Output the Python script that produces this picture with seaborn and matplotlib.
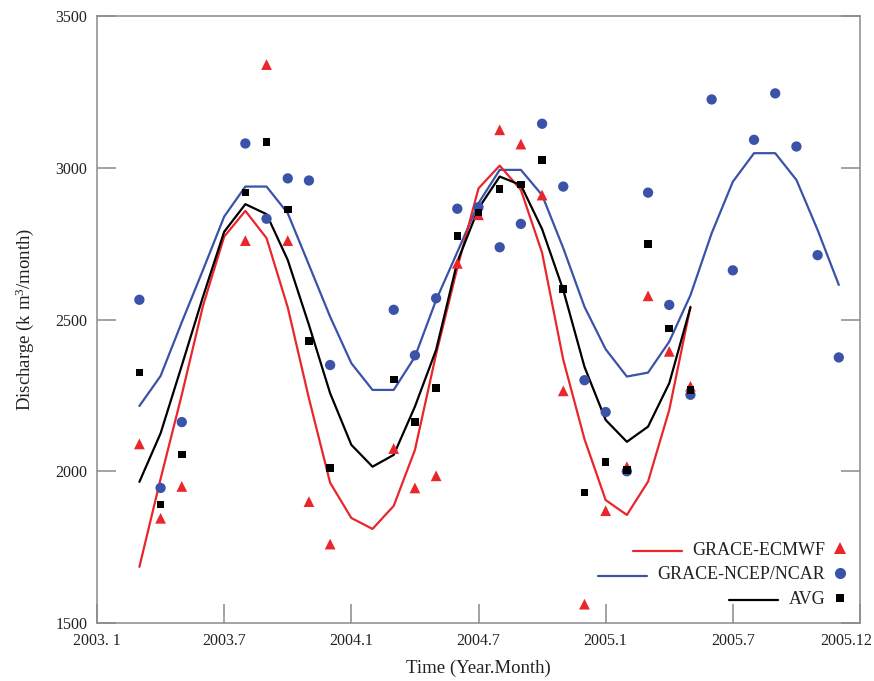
import numpy as np
import pandas as pd
import matplotlib
matplotlib.use("Agg")
import matplotlib.pyplot as plt
import matplotlib.transforms as mtransforms
from matplotlib.lines import Line2D
import seaborn as sns

# ---------------- data ----------------
line_dates_ec = pd.date_range("2003-03", "2005-05", freq="MS")
line_dates_nc = pd.date_range("2003-03", "2005-12", freq="MS")

ecmwf_line = [1685, 1975, 2252, 2545, 2773, 2858, 2768, 2540, 2240, 1962, 1846, 1810,
              1886, 2070, 2386, 2670, 2932, 3007, 2927, 2720, 2367, 2106, 1905, 1856,
              1966, 2202, 2542]
avg_line = [1965, 2125, 2348, 2575, 2789, 2880, 2847, 2696, 2482, 2257, 2087, 2015,
            2054, 2213, 2400, 2690, 2866, 2971, 2943, 2798, 2597, 2344, 2169, 2097,
            2147, 2290, 2540]
ncep_line = [2215, 2314, 2491, 2663, 2839, 2938, 2938, 2850, 2680, 2509, 2356, 2268,
             2268, 2377, 2564, 2722, 2883, 2993, 2993, 2910, 2735, 2542, 2402, 2312,
             2325, 2427, 2580, 2784, 2954, 3048, 3048, 2960, 2795, 2614]

pt_dates_ec = ["2003-03", "2003-04", "2003-05", "2003-08", "2003-09", "2003-10", "2003-11",
               "2003-12", "2004-03", "2004-04", "2004-05", "2004-06", "2004-07", "2004-08",
               "2004-09", "2004-10", "2004-11", "2004-12", "2005-01", "2005-02", "2005-03",
               "2005-04", "2005-05"]
pt_dates_nc = pt_dates_ec + ["2005-06", "2005-07", "2005-08", "2005-09", "2005-10",
                             "2005-11", "2005-12"]

ecmwf_pts = [2090, 1845, 1950, 2760, 3340, 2760, 1900, 1760, 2075, 1945, 1985, 2685,
             2845, 3125, 3078, 2910, 2265, 1562, 1870, 2015, 2578, 2395, 2280]
ncep_pts = [2565, 1945, 2162, 3080, 2832, 2965, 2958, 2350, 2532, 2382, 2570, 2865,
            2870, 2738, 2815, 3145, 2938, 2300, 2195, 2000, 2918, 2548, 2252, 3225,
            2662, 3092, 3245, 3070, 2712, 2375]
avg_pts = [2325, 1890, 2055, 2918, 3085, 2862, 2430, 2010, 2302, 2162, 2275, 2775,
           2852, 2930, 2945, 3025, 2600, 1930, 2030, 2005, 2748, 2470, 2268]

tick_labels = ["2003. 1", "2003.7", "2004.1", "2004.7", "2005.1", "2005.7", "2005.12"]
series_names = ["GRACE-ECMWF", "GRACE-NCEP/NCAR", "AVG"]

RED = "#e8262b"
BLUE = "#3a52a8"
BLACK = "#000000"


def to_t(dates):
    d = pd.to_datetime(pd.Series(dates))
    return (d.dt.year + (d.dt.month - 1) / 12.0).to_numpy()


df_ec = pd.DataFrame({"t": to_t(line_dates_ec), "v": ecmwf_line})
df_avg = pd.DataFrame({"t": to_t(line_dates_ec), "v": avg_line})
df_nc = pd.DataFrame({"t": to_t(line_dates_nc), "v": ncep_line})
dp_ec = pd.DataFrame({"t": to_t(pt_dates_ec), "v": ecmwf_pts})
dp_nc = pd.DataFrame({"t": to_t(pt_dates_nc), "v": ncep_pts})
dp_avg = pd.DataFrame({"t": to_t(pt_dates_ec), "v": avg_pts})

# ---------------- style ----------------
sns.set_style("ticks")
plt.rcParams["font.family"] = ["Liberation Serif", "DejaVu Serif"]
plt.rcParams["mathtext.fontset"] = "custom"
plt.rcParams["mathtext.rm"] = "Liberation Serif"

fig = plt.figure(figsize=(8.74, 6.81), dpi=100)
ax = fig.add_axes([97 / 874, 1 - 623 / 681, 763 / 874, 607 / 681])

lw = 1.6
sns.lineplot(data=df_nc, x="t", y="v", ax=ax, color=BLUE, lw=lw, estimator=None)
sns.lineplot(data=df_ec, x="t", y="v", ax=ax, color=RED, lw=lw, estimator=None)
sns.lineplot(data=df_avg, x="t", y="v", ax=ax, color=BLACK, lw=lw, estimator=None)

sns.scatterplot(data=dp_ec, x="t", y="v", ax=ax, color=RED, marker="^", s=60,
                edgecolor="none", zorder=3)
sns.scatterplot(data=dp_nc, x="t", y="v", ax=ax, color=BLUE, marker="o", s=55,
                edgecolor="none", zorder=3)
sns.scatterplot(data=dp_avg, x="t", y="v", ax=ax, color=BLACK, marker="s", s=30,
                edgecolor="none", zorder=3)

ax.set_xlim(2003.0, 2006.0)
ax.set_ylim(1500, 3500)
ax.set_xticks([2003.0, 2003.5, 2004.0, 2004.5, 2005.0, 2005.5, 2006.0])
ax.set_xticklabels(tick_labels)
ax.set_yticks([1500, 2000, 2500, 3000, 3500])

SPINE = "#8a8a8a"
for sp in ax.spines.values():
    sp.set_color(SPINE)
    sp.set_linewidth(1.1)
ax.tick_params(axis="both", direction="in", length=14, width=1.1, color=SPINE,
               labelsize=11.5, labelcolor="#222222", pad=7)
ax.tick_params(axis="y", right=True)

# keep the last x tick label inside the figure, as in the reference
last = ax.get_xticklabels()[-1]
last.set_ha("right")
last.set_transform(last.get_transform() +
                   mtransforms.ScaledTranslation(12 / 100, 0, fig.dpi_scale_trans))

ax.set_xlabel("Time (Year.Month)", fontsize=13.5, color="#222222", labelpad=8)
ax.set_ylabel("Discharge (k m$\\mathregular{^3}$/month)", fontsize=13.5,
              color="#222222", labelpad=14)

# ---------------- legend ----------------
handles = [
    Line2D([], [], ls="none", marker="^", color=RED, markersize=8.5, markeredgewidth=0),
    Line2D([], [], ls="none", marker="o", color=BLUE, markersize=8, markeredgewidth=0),
    Line2D([], [], ls="none", marker="s", color=BLACK, markersize=5.5, markeredgewidth=0),
]
leg = ax.legend(handles, series_names, loc="lower right", bbox_to_anchor=(0.985, 0.025),
                frameon=False, markerfirst=False, fontsize=13, handlelength=1.0,
                handletextpad=0.3, labelspacing=0.42, borderpad=0, borderaxespad=0)
for t in leg.get_texts():
    t.set_color("#222222")

fig.canvas.draw()
inv = fig.transFigure.inverted()
line_colors = [RED, BLUE, BLACK]
for txt, col in zip(leg.get_texts(), line_colors):
    bb = txt.get_window_extent()
    yc = (bb.y0 + bb.y1) / 2 - 1
    x1 = bb.x0 - 10
    x0 = x1 - 49
    (fx0, fy), (fx1, _) = inv.transform([(x0, yc), (x1, yc)])
    fig.add_artist(Line2D([fx0, fx1], [fy, fy], color=col, lw=lw,
                          transform=fig.transFigure))

fig.savefig("out.png", dpi=100)
